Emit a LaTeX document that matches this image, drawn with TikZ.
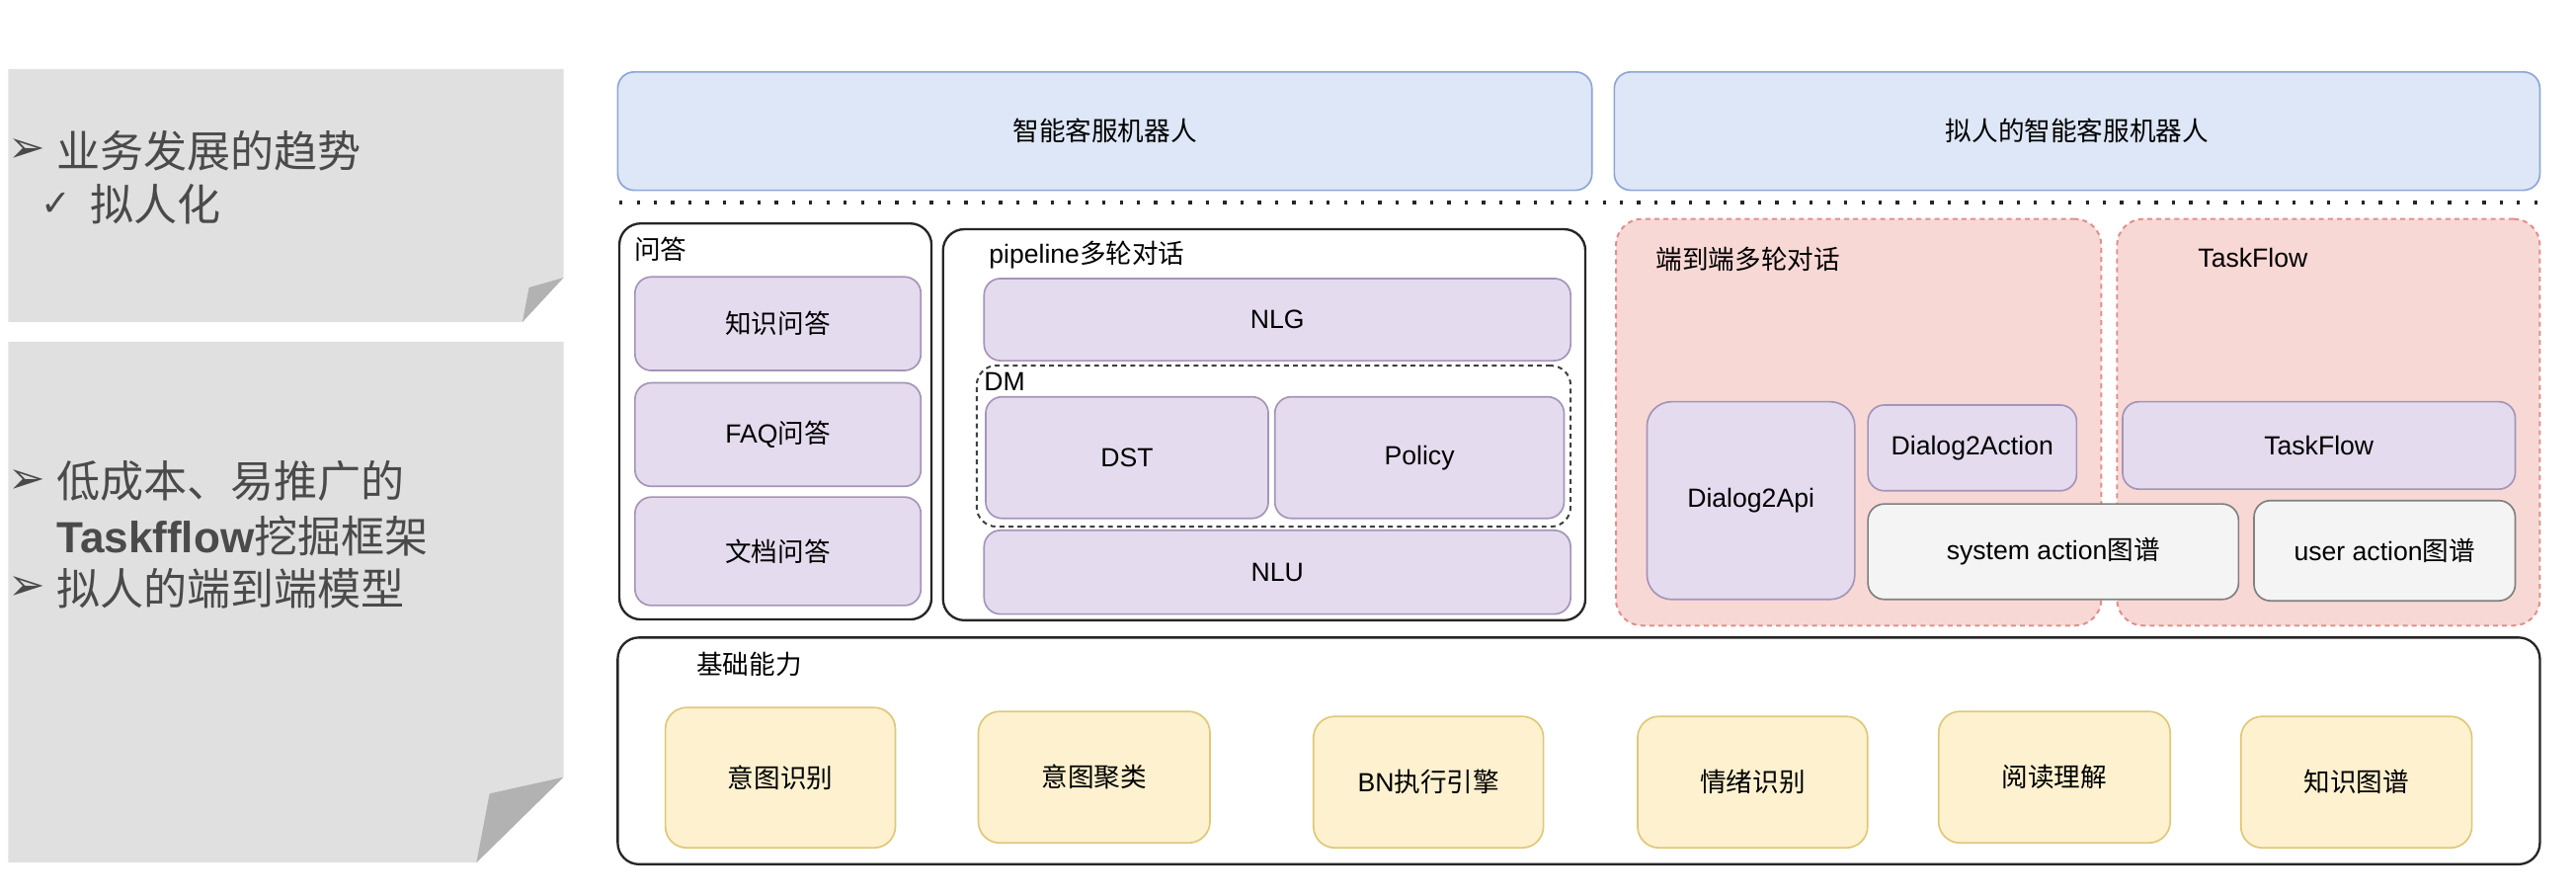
\documentclass[tikz,border=0pt]{standalone}
\usepackage{fontspec}
\usepackage{xcolor}
\setmainfont{Liberation Sans}
\newfontfamily\cjk{Noto Sans CJK SC}
\newfontfamily\dingfont{DejaVu Sans}
\usepackage{tikz}
\usetikzlibrary{arrows,shapes}

\definecolor{panelgray}{HTML}{E0E0E0}
\definecolor{foldgray}{HTML}{B2B2B2}
\definecolor{paneltext}{HTML}{4A4A4A}
\definecolor{bluefill}{HTML}{DDE7F8}
\definecolor{bluedraw}{HTML}{8EA6D6}
\definecolor{purplefill}{HTML}{E4DCEE}
\definecolor{purpledraw}{HTML}{A594B8}
\definecolor{pinkfill}{HTML}{F8D8D5}
\definecolor{pinkdraw}{HTML}{E0908C}
\definecolor{lightfill}{HTML}{F4F4F4}
\definecolor{lightdraw}{HTML}{808080}
\definecolor{yellowfill}{HTML}{FDF1CF}
\definecolor{yellowdraw}{HTML}{DFC878}

\begin{document}
\begin{tikzpicture}[x=1pt,y=-1pt,
    every node/.style={inner sep=0pt, outer sep=0pt},
    dims/.style 2 args={minimum width=#1pt, minimum height=#2pt},
    frame/.style={draw=black!85, line width=1.4pt, rounded corners=13pt, fill=white},
    robot/.style={draw=bluedraw, fill=bluefill, line width=1pt, rounded corners=10pt,
        font=\cjk\fontsize{16}{19}\selectfont},
    module/.style={draw=purpledraw, fill=purplefill, line width=1pt, rounded corners=10pt,
        font=\fontsize{16}{19}\selectfont},
    graphbox/.style={draw=lightdraw, fill=lightfill, line width=1pt, rounded corners=10pt,
        font=\fontsize{16}{19}\selectfont},
    e2e/.style={draw=pinkdraw, fill=pinkfill, line width=1.2pt, rounded corners=16pt,
        dash pattern=on 3pt off 2.5pt},
    skill/.style={draw=yellowdraw, fill=yellowfill, line width=1pt, rounded corners=13pt,
        font=\cjk\fontsize{16}{19}\selectfont},
    tag/.style={anchor=west, font=\fontsize{16}{19}\selectfont},
    bullet/.style={anchor=west, text=paneltext, font=\dingfont\fontsize{27}{30}\selectfont},
    point/.style={anchor=west, text=paneltext, font=\fontsize{26.5}{30}\selectfont},
    sepline/.style={line width=2.5pt, dash pattern=on 2pt off 8.5pt, black!85}]

\useasboundingbox (0,0) rectangle (1568,545);

% left notes
\fill[panelgray] (5,42) -- (343,42) -- (343,169) -- (318,196) -- (5,196) -- cycle;
\fill[foldgray] (318,196) -- (343,169) -- (322,175) -- cycle;
\fill[panelgray] (5,208) -- (343,208) -- (343,473) -- (290,525) -- (5,525) -- cycle;
\fill[foldgray] (290,525) -- (343,473) -- (298,483) -- cycle;

\node[bullet] (b1) at (5,92) {➢};
\node[point] (trend) at (34.5,92) {\cjk 业务发展的趋势};
\node[bullet, font=\dingfont\fontsize{22}{26}\selectfont] (chk) at (25,124.5) {✓};
\node[point] (human) at (55,124.5) {\cjk 拟人化};
\node[bullet] (b2) at (5,293) {➢};
\node[point] (cost) at (34.5,293) {\cjk 低成本、易推广的};
\node[point] (mine) at (34.5,326) {\textbf{Taskfflow}{\cjk 挖掘框架}};
\node[bullet] (b3) at (5,358) {➢};
\node[point] (model) at (34.5,358) {\cjk 拟人的端到端模型};

% robots
\node[robot, dims={593}{72}] (bot) at (672.5,79.8) {智能客服机器人};
\node[robot, dims={563.4}{72}] (hbot) at (1264.3,79.8) {拟人的智能客服机器人};
\coordinate (sepL) at (377,123.5);
\coordinate (sepR) at (1547,123.5);
\draw[sepline] (sepL) -- (sepR);

% QA
\node[frame, dims={190}{241}] (qa) at (472,256.5) {};
\node[tag] (qaT) at (386,152) {\cjk 问答};
\node[module, dims={174}{57}] (kbqa) at (473.5,197) {\cjk 知识问答};
\node[module, dims={174}{63}] (faq) at (473.5,264.5) {FAQ{\cjk 问答}};
\node[module, dims={174}{66}] (docqa) at (473.5,335.5) {\cjk 文档问答};

% pipeline
\node[frame, dims={391}{238}] (pipe) at (769.5,258.5) {};
\node[tag] (pipeT) at (602,155) {pipeline{\cjk 多轮对话}};
\node[module, dims={357}{50}] (nlg) at (777.5,194.5) {NLG};
\node[draw=black!75, line width=1.2pt, dash pattern=on 3pt off 2.5pt, rounded corners=12pt,
    dims={361.5}{98}] (dm) at (775.25,271.5) {};
\node[tag] (dmT) at (599,232.5) {DM};
\node[module, dims={172}{74}] (dst) at (686,278.5) {DST};
\node[module, dims={176}{74}] (policy) at (864,278.5) {Policy};
\node[module, dims={357}{51}] (nlu) at (777.5,348.25) {NLU};

% end to end
\node[e2e, dims={295.4}{247.5}] (endend) at (1131.3,257) {};
\node[tag] (endendT) at (1008,158) {\cjk 端到端多轮对话};
\node[e2e, dims={257.4}{247.5}] (flow) at (1417.3,257) {};
\node[tag] (flowT) at (1338,157) {TaskFlow};
\node[module, rounded corners=15pt, dims={126.5}{120.3}] (d2api) at (1065.75,304.65) {Dialog2Api};
\node[module, dims={127}{52.2}] (d2act) at (1200.5,272.6) {Dialog2Action};
\node[module, dims={239}{53.2}] (tflow) at (1411.5,271.1) {TaskFlow};
\node[graphbox, dims={225.6}{58.1}] (sysg) at (1249.8,335.75) {system action{\cjk 图谱}};
\node[graphbox, dims={159}{61}] (userg) at (1451.5,335.15) {user action{\cjk 图谱}};

% base skills
\node[frame, dims={1170}{138}] (base) at (961,457) {};
\node[tag] (baseT) at (424,404) {\cjk 基础能力};
\node[skill, dims={140}{85.4}] (intent) at (475,473.3) {意图识别};
\node[skill, dims={141}{80}] (cluster) at (666,473) {意图聚类};
\node[skill, dims={140}{80}] (bn) at (869.5,476) {{\normalfont\fontsize{16}{19}\selectfont BN}执行引擎};
\node[skill, dims={140}{80}] (emo) at (1066.8,476) {情绪识别};
\node[skill, dims={141}{80}] (read) at (1250.5,473) {阅读理解};
\node[skill, dims={140.6}{80}] (kg) at (1434.3,476) {知识图谱};
\end{tikzpicture}
\end{document}
